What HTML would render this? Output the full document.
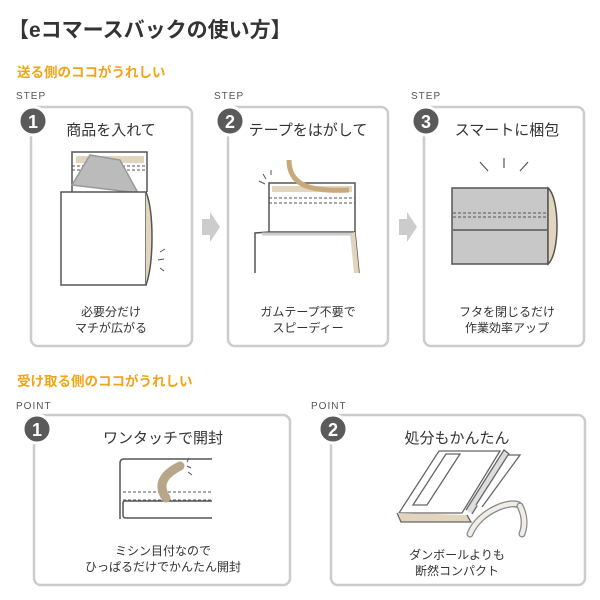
<!DOCTYPE html>
<html><head><meta charset="utf-8"><style>
body{margin:0;background:#fff}
svg{display:block}
text{font-family:"Liberation Sans","Noto Sans CJK JP",sans-serif}
</style></head><body>
<svg width="600" height="600" viewBox="0 0 600 600">
<text x="8" y="37" font-size="21" font-weight="bold" fill="#333">【eコマースバックの使い方】</text>
<text x="17" y="77" font-size="13.5" font-weight="bold" fill="#f0a418">送る側のココがうれしい</text>
<g font-size="10" fill="#555" letter-spacing="1">
<text x="16" y="99">STEP</text><text x="214" y="99">STEP</text><text x="411" y="99">STEP</text>
<text x="16" y="409">POINT</text><text x="311" y="409">POINT</text>
</g>
<g fill="none" stroke="#ccc" stroke-width="2.5">
<rect x="31" y="107" width="161" height="239" rx="7"/>
<rect x="228" y="107" width="160" height="239" rx="7"/>
<rect x="424" y="107" width="160" height="239" rx="7"/>
<rect x="34" y="415" width="256" height="170" rx="7"/>
<rect x="331" y="415" width="254" height="170" rx="7"/>
</g>
<g fill="#5a5a5a" stroke="#fff" stroke-width="3">
<circle cx="33" cy="121" r="14"/><circle cx="230" cy="121" r="14"/><circle cx="426" cy="121" r="14"/>
<circle cx="37" cy="429" r="14"/><circle cx="333" cy="429" r="14"/>
</g>
<g fill="#fff" font-size="18" font-weight="bold" text-anchor="middle">
<text x="33" y="128">1</text><text x="230" y="128">2</text><text x="426" y="128">3</text>
<text x="37" y="436">1</text><text x="333" y="436">2</text>
</g>
<g font-size="15" fill="#333" text-anchor="middle">
<text x="111" y="135">商品を入れて</text>
<text x="308" y="135">テープをはがして</text>
<text x="507" y="135">スマートに梱包</text>
<text x="163" y="443">ワンタッチで開封</text>
<text x="457" y="443">処分もかんたん</text>
</g>
<g font-size="12" fill="#333" text-anchor="middle">
<text x="111" y="316">必要分だけ</text><text x="111" y="332">マチが広がる</text>
<text x="308" y="316">ガムテープ不要で</text><text x="308" y="332">スピーディー</text>
<text x="507" y="316">フタを閉じるだけ</text><text x="507" y="332">作業効率アップ</text>
<text x="163" y="555">ミシン目付なので</text><text x="163" y="571">ひっぱるだけでかんたん開封</text>
<text x="457" y="559">ダンボールよりも</text><text x="457" y="575">断然コンパクト</text>
</g>
<text x="17" y="386" font-size="13.5" font-weight="bold" fill="#f0a418">受け取る側のココがうれしい</text>
<path d="M202 219h8v-7l10 15-10 15v-7h-8z" fill="#ccc"/>
<path d="M399 219h8v-7l10 15-10 15v-7h-8z" fill="#ccc"/>
<g stroke="#555" stroke-width="1.5" fill="none">
<path d="M72 193V152h75v40" fill="#fff"/>
<rect x="76" y="156" width="68" height="7" fill="#e2d5bd" stroke="none"/>
<path d="M72 166h75M72 170h75" stroke-dasharray="3 2" stroke-width="1"/>
<path d="M72 185l18-30 30 5 18 33z" fill="#bbb" stroke="#999"/>
<path d="M61 192h85v93H61z" fill="#fff"/>
<path d="M146 192c8 20 8 70 0 93" fill="#e2d5bd"/>
<path d="M160 252l5-3M158 260l6-1M160 268l4 3" stroke-width="1"/>
</g>
<g stroke="#555" stroke-width="1.5" fill="none">
<path d="M269 232v-49h86v49" fill="#fff"/>
<rect x="272" y="186" width="80" height="6" fill="#e2d5bd" stroke="none"/>
<path d="M289 160c0 25 20 32 60 30" stroke="#c9a97c" stroke-width="5"/>
<path d="M269 198h86M269 203h86" stroke-dasharray="3 2" stroke-width="1"/>
<path d="M259 181l6 3M263 174l3 5M271 170l0 5" stroke-width="1"/>
<path d="M255 273v-40l14-1h86l4 41" fill="#fff"/>
<path d="M350 233l4 40h5l-4-41z" fill="#e2d5bd" stroke="none"/>
<path d="M262 234h90" stroke="#ccc" stroke-width="3"/>
</g>
<g stroke="#555" stroke-width="1.5">
<path d="M452 188h96v76h-96z" fill="#c8c8c8"/>
<path d="M453 213h94M453 217h94" fill="none" stroke-dasharray="3 2" stroke-width="1"/>
<path d="M453 230h94" fill="none"/>
<path d="M548 188c12 10 12 66 0 76z" fill="#e2d5bd"/>
<path d="M480 162l8 9M504 158v10M528 162l-8 9" fill="none" stroke-width="1.2"/>
</g>
<g stroke="#555" stroke-width="1.5" fill="none">
<path d="M212 459H124q-4 0-4 4v56M212 518H126q-3 0-3-3v-12q0-2 2-2h87"/>
<path d="M123 492h89M123 500h89" stroke-dasharray="3 2" stroke-width="1"/>
<path d="M166 498c-10-15 0-25 14-32" stroke="#b8a68a" stroke-width="9" stroke-linecap="round"/>
<path d="M187 466l4 2M188 472l4 3M187 462l2-4" stroke-width="1"/>
</g>
<g stroke="#666" stroke-width="1.3" fill="none">
<path d="M399 513l40-62h61l-38 62z" fill="#fff"/>
<path d="M413 505l33-51h14l-33 51z"/>
<path d="M466 510l38-60 5 4-37 60" fill="#ddd"/>
<path d="M476 505l32-50h12l-38 52" fill="#fff"/>
<path d="M397 513l4 9h70l-4-7" fill="#e2d5bd"/>
<path d="M470 534c10-25 45-35 50-28" stroke="#888" stroke-width="7" stroke-linecap="round"/>
<path d="M470 534c10-25 45-35 50-28" stroke="#f0ede6" stroke-width="4.5" stroke-linecap="round"/>
<path d="M520 506c5 10 5 20 2 28" stroke="#888" stroke-width="7" stroke-linecap="round"/>
<path d="M520 506c5 10 5 20 2 28" stroke="#f0ede6" stroke-width="4.5" stroke-linecap="round"/>
</g>
</svg>
</body></html>
